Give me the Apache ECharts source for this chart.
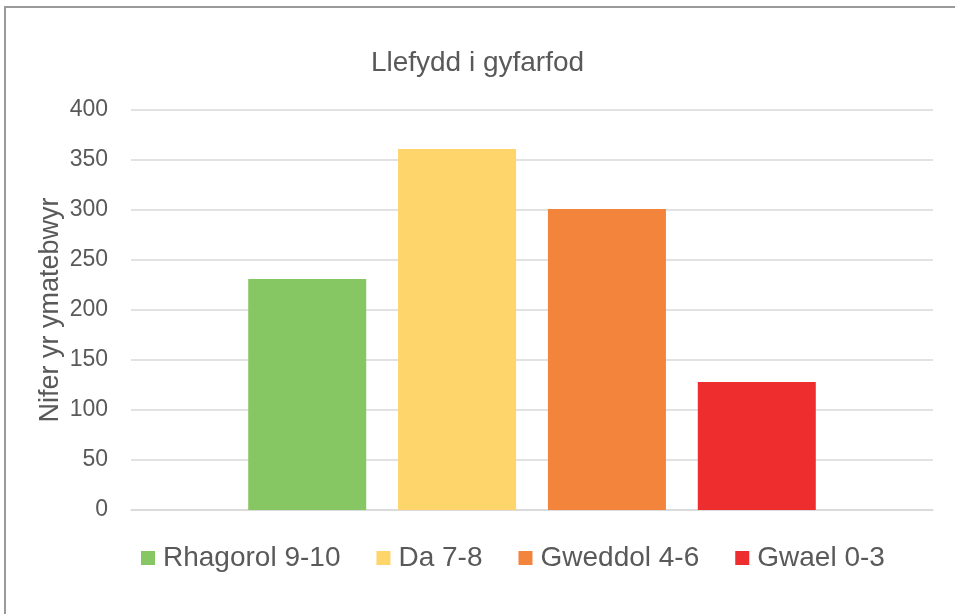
<!DOCTYPE html>
<html>
<head>
<meta charset="utf-8">
<script src="https://cdn.jsdelivr.net/npm/echarts@6/dist/echarts.min.js"></script>
<style>
  html, body { margin: 0; padding: 0; background: #fff; }
  #frame {
    position: absolute; left: 4px; top: 6px; width: 970px; height: 630px;
    border: 2px solid #9a9a9a; box-sizing: border-box;
  }
  #main { position: absolute; left: 0; top: 0; width: 955px; height: 614px; }
</style>
</head>
<body>
<div id="frame"></div>
<div id="main"></div>
<script>
const seriesNames = ['Rhagorol 9-10', 'Da 7-8', 'Gweddol 4-6', 'Gwael 0-3']
const seriesValues = [231, 361, 301, 128]
const seriesColors = ['#86C663', '#FDD56A', '#F3843C', '#EE2E2E']
const yTicks = [0, 50, 100, 150, 200, 250, 300, 350, 400]

const textColor = '#595959'
const font = '"Liberation Sans", Arial, sans-serif'

const myChart = echarts.init(document.getElementById('main'))

const option = {
  animation: false,
  textStyle: { fontFamily: font },
  title: {
    text: 'Llefydd i gyfarfod',
    left: 'center',
    top: 44,
    textStyle: { fontSize: 28, fontWeight: 'normal', color: textColor, fontFamily: font }
  },
  legend: {
    data: seriesNames,
    top: 539,
    left: 136,
    itemWidth: 14,
    itemHeight: 14,
    itemGap: 36,
    icon: 'rect',
    textStyle: { fontSize: 28, color: textColor, fontFamily: font, padding: [0, 0, 0, 3] }
  },
  grid: { left: 131, right: 22, top: 110, bottom: 104 },
  xAxis: {
    type: 'category',
    data: [''],
    axisLine: { lineStyle: { color: '#D9D9D9', width: 1.5 } },
    axisTick: { show: false },
    axisLabel: { show: false }
  },
  yAxis: {
    type: 'value',
    min: yTicks[0],
    max: yTicks[yTicks.length - 1],
    interval: 50,
    name: 'Nifer yr ymatebwyr',
    nameLocation: 'middle',
    nameGap: 67,
    nameMoveOverlap: false,
    nameTextStyle: { fontSize: 27, color: textColor, fontFamily: font },
    axisLine: { show: false },
    axisTick: { show: false },
    axisLabel: { fontSize: 23, color: textColor, margin: 23, fontFamily: font },
    splitLine: { lineStyle: { color: '#D9D9D9', width: 1.5 } }
  },
  series: seriesNames.map((name, i) => ({
    name: name,
    type: 'bar',
    data: [seriesValues[i]],
    barWidth: 118,
    barGap: '27%',
    itemStyle: { color: seriesColors[i] }
  }))
}

myChart.setOption(option)
</script>
</body>
</html>
